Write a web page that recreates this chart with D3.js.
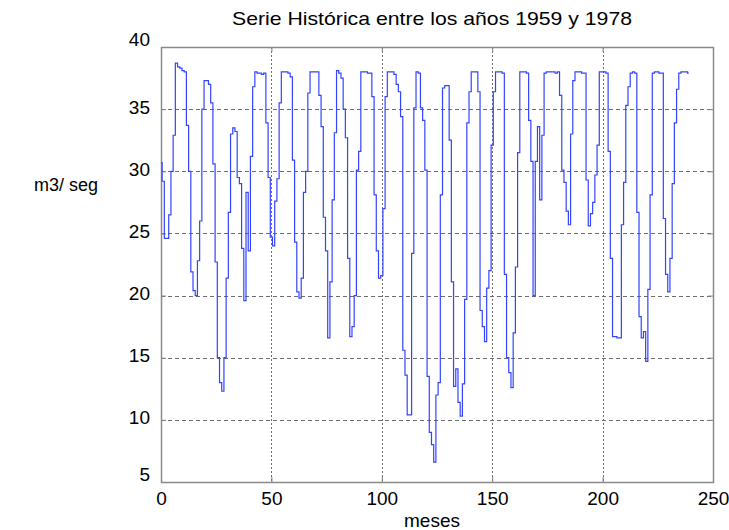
<!DOCTYPE html>
<html>
<head>
<meta charset="utf-8">
<script src="https://cdn.jsdelivr.net/npm/d3@7"></script>
<style>
  html, body { margin: 0; padding: 0; background: #fff; }
  svg { display: block; }
  text { font-family: "Liberation Sans", Arial, sans-serif; fill: #000; }
</style>
</head>
<body>
<script>
// ---- data (monthly flows, m3/seg, months 0..239) ----
const months = d3.range(0, 240);
const flows = [
  30.7, 29.2, 24.6, 24.6, 26.5, 30.0, 32.9, 38.7, 38.4, 38.3, 38.1, 38.0,
  33.7, 30.0, 21.9, 20.4, 20.0, 22.8, 26.0, 35.0, 37.3, 37.3, 37.0, 35.5,
  30.6, 22.7, 15.0, 13.0, 12.3, 15.0, 21.4, 26.7, 33.0, 33.5, 33.2, 29.5,
  29.0, 23.8, 19.6, 28.3, 23.6, 31.2, 36.8, 38.0, 37.9, 37.9, 37.8, 37.9,
  33.9, 29.5, 24.7, 24.0, 27.6, 29.4, 35.5, 38.0, 38.0, 38.0, 37.9, 37.6,
  30.9, 24.3, 20.3, 19.8, 21.4, 28.3, 30.0, 36.3, 38.0, 38.0, 38.0, 38.0,
  36.1, 33.6, 26.3, 23.6, 16.6, 21.1, 27.7, 33.1, 38.1, 37.9, 37.5, 35.0,
  32.7, 23.0, 16.7, 17.5, 20.0, 30.1, 31.6, 38.0, 38.0, 38.0, 37.9, 37.9,
  36.0, 28.1, 23.6, 21.4, 21.6, 27.0, 36.0, 38.0, 38.0, 38.0, 37.8, 37.0,
  36.4, 34.4, 15.6, 13.6, 10.4, 10.4, 23.4, 35.1, 38.0, 37.9, 35.1, 34.1,
  30.1, 13.5, 9.0, 8.0, 6.6, 12.0, 13.0, 28.1, 36.7, 36.9, 36.9, 32.5,
  21.1, 12.7, 14.1, 11.4, 10.3, 12.9, 19.7, 33.9, 36.4, 38.0, 38.0, 38.0,
  36.4, 18.8, 17.5, 16.3, 20.6, 22.0, 32.1, 36.4, 38.0, 38.0, 38.0, 37.9,
  21.7, 15.0, 13.8, 12.6, 17.0, 22.3, 31.5, 38.0, 38.0, 38.0, 37.9, 34.1,
  30.8, 20.0, 30.8, 33.6, 27.7, 32.9, 37.9, 38.0, 38.0, 38.0, 38.0, 37.9,
  38.0, 36.1, 30.1, 29.1, 26.8, 25.7, 33.0, 37.3, 38.0, 38.0, 38.0, 37.9,
  37.9, 29.3, 25.6, 26.6, 27.5, 29.7, 32.1, 38.0, 38.0, 38.0, 37.9, 31.6,
  23.0, 16.7, 16.7, 16.6, 16.6, 25.7, 29.1, 35.3, 36.8, 37.9, 38.0, 37.9,
  26.7, 18.3, 16.6, 17.1, 14.7, 20.5, 28.1, 37.9, 38.0, 38.0, 37.9, 37.9,
  26.2, 21.7, 20.3, 23.0, 29.0, 33.9, 36.6, 37.9, 38.0, 38.0, 38.0, 37.9
];
const xTicks = [0, 50, 100, 150, 200, 250];
const yTicks = [5, 10, 15, 20, 25, 30, 35, 40];
const titleText = "Serie Histórica entre los años 1959 y 1978";
const xLabel = "meses";
const yLabel = "m3/ seg";

// ---- drawing ----
const W = 729, H = 530;
const L = 161, R = 713, T = 47, B = 482;
const FS = 19;
const svg = d3.select("body").append("svg").attr("width", W).attr("height", H);

const x = d3.scaleLinear().domain([0, 250]).range([L, R]);
const y = d3.scaleLinear().domain([5, 40]).range([B, T]);

// grid
const grid = svg.append("g");
grid.selectAll("line.h").data(yTicks.slice(1, -1)).join("line")
  .attr("x1", L).attr("x2", R)
  .attr("y1", d => Math.round(y(d)) + 0.5).attr("y2", d => Math.round(y(d)) + 0.5)
  .attr("stroke", "#6e6e6e").attr("stroke-width", 1).attr("stroke-dasharray", "4,3");
grid.selectAll("line.v").data(xTicks.slice(1, -1)).join("line")
  .attr("y1", T).attr("y2", B)
  .attr("x1", d => Math.round(x(d)) + 0.5).attr("x2", d => Math.round(x(d)) + 0.5)
  .attr("stroke", "#6e6e6e").attr("stroke-width", 1).attr("stroke-dasharray", "2,2");

// axes (inward ticks)
const gx = svg.append("g").attr("transform", `translate(0,${B})`)
  .call(d3.axisBottom(x).tickValues(xTicks).tickSize(-5).tickPadding(10).tickFormat(d3.format("d")));
const gxt = svg.append("g").attr("transform", `translate(0,${T})`)
  .call(d3.axisTop(x).tickValues(xTicks).tickSize(-5).tickFormat(""));
const gy = svg.append("g").attr("transform", `translate(${L},0)`)
  .call(d3.axisLeft(y).tickValues(yTicks).tickSize(-5).tickPadding(11).tickFormat(d3.format("d")));
const gyr = svg.append("g").attr("transform", `translate(${R},0)`)
  .call(d3.axisRight(y).tickValues(yTicks).tickSize(-5).tickFormat(""));
[gx, gxt, gy, gyr].forEach(g => {
  g.select(".domain").remove();
  g.selectAll(".tick line").attr("stroke", "#808080");
  g.selectAll("text").attr("font-size", FS).attr("font-family", "Liberation Sans, Arial, sans-serif").attr("fill", "#000");
});
// end labels sit slightly above their ticks, as in the reference
gy.selectAll(".tick text").attr("y", d => (d === 40 || d === 5) ? -8 : -2);

// box
svg.append("rect").attr("x", L + 0.5).attr("y", T + 0.5)
  .attr("width", R - L).attr("height", B - T)
  .attr("fill", "none").attr("stroke", "#8a8a8a").attr("stroke-width", 1.5);

// series
const line = d3.line().x((d, i) => x(months[i])).y(d => y(d)).curve(d3.curveStep);
svg.append("path").datum(flows)
  .attr("d", line)
  .attr("fill", "none").attr("stroke", "#3344ff").attr("stroke-width", 1.2);

// texts
svg.append("text").attr("x", 432).attr("y", 25).attr("text-anchor", "middle")
  .attr("font-size", FS).attr("textLength", 400).attr("lengthAdjust", "spacingAndGlyphs").text(titleText);
svg.append("text").attr("x", 432).attr("y", 527).attr("text-anchor", "middle")
  .attr("font-size", FS).text(xLabel);
svg.append("text").attr("x", 34).attr("y", 191).attr("text-anchor", "start")
  .attr("font-size", 18).text(yLabel);
</script>
</body>
</html>
